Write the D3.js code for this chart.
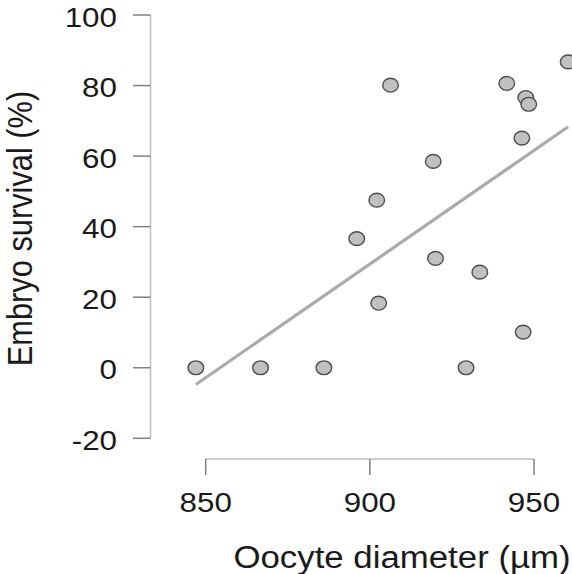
<!DOCTYPE html>
<html>
<head>
<meta charset="utf-8">
<script src="https://cdn.jsdelivr.net/npm/d3@7"></script>
<style>
html,body{margin:0;padding:0;background:#fff;}
svg{display:block;}
text{font-family:"Liberation Sans",Arial,Helvetica,sans-serif;fill:#1a1a1a;}
</style>
</head>
<body>
<svg id="chart" width="572" height="574"></svg>
<script>
// Data
const diameter = [847.0, 866.7, 886.0, 896.0, 902.1, 902.7, 906.3, 919.3, 920.0, 929.3, 933.5, 941.7, 946.3, 946.7, 947.5, 948.4, 960.4];
const survival = [0, 0, 0, 36.6, 47.5, 18.3, 80.1, 58.5, 31.0, 0, 27.1, 80.6, 65.1, 10.1, 76.6, 74.7, 86.7];
const xTicks = [850, 900, 950];
const yTicks = [-20, 0, 20, 40, 60, 80, 100];
const xTitle = "Oocyte diameter (µm)";
const yTitle = "Embryo survival (%)";

const svg = d3.select("#chart");
const x = d3.scaleLinear().domain([850, 950]).range([205.7, 534]);
const y = d3.scaleLinear().domain([-20, 100]).range([438.3, 15]);
const SX = 1.12, FS = 28, TFS = 30.8;

// Y axis
const yAxisX = 150.5;
svg.append("line").attr("x1", yAxisX).attr("x2", yAxisX)
  .attr("y1", y(-20)).attr("y2", y(100)).attr("stroke", "#bdbdbd").attr("stroke-width", 1.5);
svg.selectAll(".yt").data(yTicks).enter().append("line")
  .attr("x1", 133).attr("x2", yAxisX).attr("y1", d => y(d)).attr("y2", d => y(d))
  .attr("stroke", "#808080").attr("stroke-width", 1.5);
svg.selectAll(".yl").data(yTicks).enter().append("text")
  .attr("transform", d => `translate(117,${y(d) + 11.5}) scale(${SX},1)`)
  .attr("text-anchor", "end").attr("font-size", FS).text(d => d);

// X axis
const xAxisY = 459;
svg.append("line").attr("x1", x(850)).attr("x2", x(950))
  .attr("y1", xAxisY).attr("y2", xAxisY).attr("stroke", "#bdbdbd").attr("stroke-width", 1.5);
svg.selectAll(".xt").data(xTicks).enter().append("line")
  .attr("x1", d => x(d)).attr("x2", d => x(d)).attr("y1", xAxisY).attr("y2", 475)
  .attr("stroke", "#808080").attr("stroke-width", 1.5);
svg.selectAll(".xl").data(xTicks).enter().append("text")
  .attr("transform", d => `translate(${x(d)},511.5) scale(${SX},1)`)
  .attr("text-anchor", "middle").attr("font-size", FS).text(d => d);

// Titles
svg.append("text").attr("transform", `translate(402,568) scale(1.13,1)`)
  .attr("text-anchor", "middle").attr("font-size", TFS).text(xTitle);
svg.append("text").attr("transform", `translate(31.5,228.5) rotate(-90) scale(1,${SX})`)
  .attr("text-anchor", "middle").attr("font-size", TFS).text(yTitle);

// Least-squares regression line over data range
const mx = d3.mean(diameter), my = d3.mean(survival);
let sxy = 0, sxx = 0;
diameter.forEach((d, i) => { sxy += (d - mx) * (survival[i] - my); sxx += (d - mx) * (d - mx); });
const slope = sxy / sxx, icpt = my - slope * mx;
const xr = d3.extent(diameter);
svg.append("line")
  .attr("x1", x(xr[0])).attr("y1", y(icpt + slope * xr[0]))
  .attr("x2", x(xr[1])).attr("y2", y(icpt + slope * xr[1]))
  .attr("stroke", "#ababab").attr("stroke-width", 3.2);

// Points
svg.selectAll(".pt").data(diameter).enter().append("ellipse")
  .attr("cx", d => x(d)).attr("cy", (d, i) => y(survival[i]))
  .attr("rx", 7.8).attr("ry", 6.9)
  .attr("fill", "#c0c0c0").attr("stroke", "#4d4d4d").attr("stroke-width", 1.4);
</script>
</body>
</html>
